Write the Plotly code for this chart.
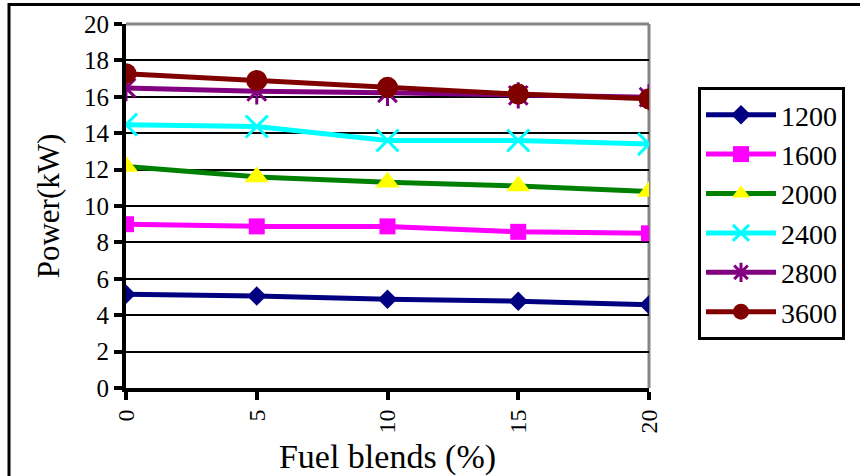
import plotly.graph_objects as go

# Engine power vs. biodiesel blend ratio at several engine speeds (rpm)
blend_pct = [0, 5, 10, 15, 20]
speeds = ["1200", "1600", "2000", "2400", "2800", "3600"]

power_1200 = [5.15, 5.05, 4.87, 4.77, 4.57]
power_1600 = [9.0, 8.88, 8.88, 8.58, 8.5]
power_2000 = [12.17, 11.6, 11.3, 11.1, 10.8]
power_2400 = [14.47, 14.37, 13.6, 13.6, 13.4]
power_2800 = [16.48, 16.3, 16.22, 16.08, 15.98]
power_3600 = [17.27, 16.9, 16.52, 16.15, 15.89]

y_ticks = list(range(0, 21, 2))

series = [power_1200, power_1600, power_2000, power_2400, power_2800, power_3600]

line_colors = ["#000080", "#FF00FF", "#008000", "#00FFFF", "#800080", "#800000"]
marker_colors = ["#000080", "#FF00FF", "#FFFF00", "#00FFFF", "#800080", "#800000"]
symbols = ["diamond", "square", "triangle-up", "x-thin", "asterisk", "circle"]
marker_sizes = [15, 16, 21, 22, 22, 21]

W, H = 860, 476
M_L, M_R, M_T, M_B = 126, 211, 24, 88
PW, PH = W - M_L - M_R, H - M_T - M_B


def px_x(px):
    return (px - M_L) / PW


def px_y(py):
    return (H - M_B - py) / PH


FONT = "Times New Roman"

fig = go.Figure()
for name, vals, lc, mc, sym, ms in zip(speeds, series, line_colors,
                                        marker_colors, symbols, marker_sizes):
    thin = sym in ("x-thin", "asterisk")
    fig.add_trace(go.Scatter(
        x=blend_pct, y=vals, name=name, mode="lines+markers",
        line=dict(color=lc, width=5),
        marker=dict(symbol=sym, size=ms, color=mc,
                    line=dict(color=mc, width=3 if thin else 0)),
    ))

# helper trace that carries the inner black gridlines (2..18) on an overlay axis
fig.add_trace(go.Scatter(x=[None], y=[None], yaxis="y2", showlegend=False,
                         hoverinfo="skip"))

# gray frame on top and right of the plotting area
frame = dict(type="line", line=dict(color="#868686", width=3), layer="below")
fig.add_shape(xref="x domain", yref="y domain", x0=0, x1=1, y0=1, y1=1, **frame)
fig.add_shape(xref="x domain", yref="y domain", x0=1, x1=1, y0=0, y1=1, **frame)

# outer border of the chart area (left and top edges)
fig.add_shape(type="path", xref="paper", yref="paper",
              path=(f"M {px_x(9)},{px_y(490)} L {px_x(9)},{px_y(4.5)} "
                    f"L {px_x(880)},{px_y(4.5)}"),
              line=dict(color="black", width=3), layer="above")

fig.update_layout(
    width=W, height=H,
    margin=dict(l=M_L, r=M_R, t=M_T, b=M_B, pad=0, autoexpand=False),
    paper_bgcolor="white", plot_bgcolor="white",
    font=dict(family=FONT, color="black"),
    showlegend=True,
    legend=dict(
        x=px_x(698), y=px_y(87), xanchor="left", yanchor="top",
        bordercolor="black", borderwidth=3, bgcolor="white",
        font=dict(family=FONT, size=28, color="black"),
        itemwidth=70, tracegroupgap=0,
    ),
    xaxis=dict(
        range=[0, 20], tickvals=blend_pct, ticktext=[str(v) for v in blend_pct],
        tickangle=-90, tickfont=dict(family=FONT, size=24),
        ticks="outside", ticklen=8, tickwidth=4, tickcolor="black",
        showline=True, linecolor="black", linewidth=4,
        showgrid=False, zeroline=False, automargin=False,
        title=dict(text="Fuel blends (%)", font=dict(family=FONT, size=34),
                   standoff=14),
    ),
    yaxis=dict(
        range=[0, 20], tickvals=y_ticks, tickfont=dict(family=FONT, size=25),
        ticks="outside", ticklen=8, tickwidth=4, tickcolor="black",
        showline=True, linecolor="black", linewidth=4,
        showgrid=False, zeroline=False, automargin=False,
        title=dict(text="Power(kW)", font=dict(family=FONT, size=31),
                   standoff=16),
    ),
    yaxis2=dict(
        overlaying="y", range=[0, 20], tickvals=y_ticks[1:-1],
        showticklabels=False, ticks="", showline=False,
        showgrid=True, gridcolor="black", gridwidth=2, zeroline=False,
    ),
)

fig.write_html("out.html")
